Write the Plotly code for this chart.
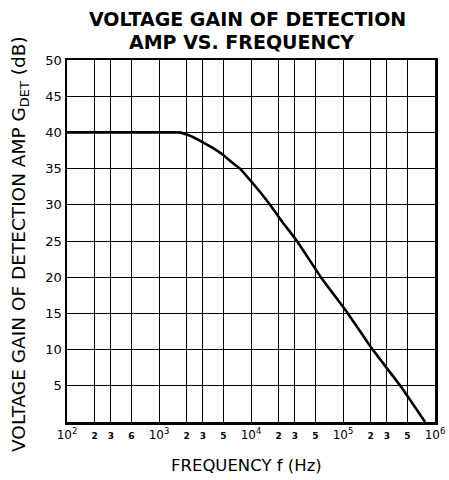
import plotly.graph_objects as go

freq_hz = [100, 1000, 1600, 1800, 2000, 2400, 2930, 3800, 4970, 6000, 7600, 9800,
           12500, 16100, 22000, 31600, 57500, 113000, 210000, 420000, 780000]
gain_db = [40, 40, 40, 39.9, 39.7, 39.3, 38.7, 37.9, 36.9, 36.0, 35.0, 33.4,
           31.8, 30, 27.6, 25, 20, 15, 10, 5, 0]

x_tick_vals = [100, 200, 300, 500, 1000, 2000, 3000, 5000, 10000, 20000, 30000, 50000,
               100000, 200000, 300000, 500000, 1000000]
x_tick_text = ["10<sup>2</sup>", "2", "3", "6", "10<sup>3</sup>", "2", "3", "5",
               "10<sup>4</sup>", "2", "3", "5", "10<sup>5</sup>", "2", "3", "5", "10<sup>6</sup>"]
y_tick_vals = [5, 10, 15, 20, 25, 30, 35, 40, 45, 50]

title_lines = ["VOLTAGE GAIN OF DETECTION", "AMP VS. FREQUENCY"]
x_title = "FREQUENCY f (Hz)"
y_title = "VOLTAGE GAIN OF DETECTION AMP G<sub>DET</sub> (dB)"

major = {100, 1000, 10000, 100000, 1000000}
styled = []
for v, t in zip(x_tick_vals, x_tick_text):
    if v in major:
        styled.append(t)
    else:
        styled.append("<span style='font-size:9px;font-weight:bold'>" + t + "</span>")

font = "DejaVu Sans, sans-serif"

fig = go.Figure()
fig.add_trace(go.Scatter(x=freq_hz, y=gain_db, mode="lines",
                         line=dict(color="black", width=2.6, shape="spline", smoothing=0.3),
                         showlegend=False, hoverinfo="skip"))

fig.update_layout(
    width=449, height=480,
    margin=dict(l=67, r=14, t=60, b=58),
    paper_bgcolor="white", plot_bgcolor="white",
    font=dict(family=font, color="black", size=12),
)
fig.add_annotation(text="<b>" + title_lines[0] + "</b>", xref="paper", yref="paper",
                   x=0.49, y=1.113, xanchor="center", yanchor="middle", showarrow=False,
                   font=dict(size=19, family=font, color="black"))
fig.add_annotation(text="<b>" + title_lines[1] + "</b>", xref="paper", yref="paper",
                   x=0.475, y=1.0497, xanchor="center", yanchor="middle", showarrow=False,
                   font=dict(size=19, family=font, color="black"))
fig.add_annotation(text=x_title, xref="paper", yref="paper",
                   x=0.489, y=-0.1215, xanchor="center", yanchor="middle", showarrow=False,
                   font=dict(size=16.5, family=font, color="black"))
fig.add_annotation(text=y_title, xref="paper", yref="paper", textangle=-90,
                   x=-0.1277, y=0.4917, xanchor="center", yanchor="middle", showarrow=False,
                   font=dict(size=18.5, family=font, color="black"))

fig.update_xaxes(type="log", range=[2, 6], tickvals=x_tick_vals, ticktext=styled,
                 showgrid=True, gridcolor="black", gridwidth=1,
                 showline=True, linecolor="black", linewidth=2.5, mirror=True,
                 ticks="", tickfont=dict(size=12, family=font), automargin=False,
                 zeroline=False)
fig.update_yaxes(range=[0, 50], tickvals=y_tick_vals,
                 showgrid=True, gridcolor="black", gridwidth=1,
                 showline=True, linecolor="black", linewidth=2.5, mirror=True,
                 ticks="", tickfont=dict(size=13, family=font), automargin=False,
                 zeroline=False)

fig.write_html("out.html", config={"displayModeBar": False, "staticPlot": True},
               post_script="document.body.style.margin='0';document.body.style.padding='0';document.body.style.overflow='hidden';")
